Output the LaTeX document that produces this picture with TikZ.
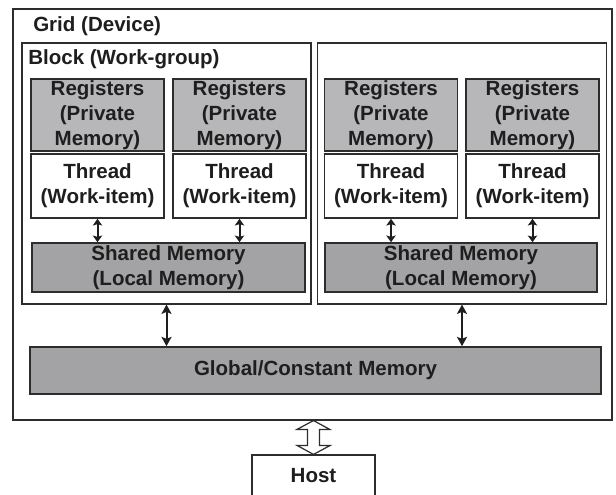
\documentclass[tikz,border=0pt]{standalone}
\usepackage{fontspec}
\setmainfont{Liberation Sans}
\usepackage{tikz}
\usetikzlibrary{arrows.meta, calc}

\definecolor{regfill}{RGB}{183,183,185}
\definecolor{memfill}{RGB}{163,163,165}
\definecolor{edge}{RGB}{45,45,45}
\definecolor{ink}{RGB}{30,30,30}

\begin{document}
\begin{tikzpicture}[x=0.75pt,y=0.75pt,yscale=-1,xscale=1,
  txt/.style={font=\fontsize{15.4}{18.6}\selectfont\bfseries, text=ink, align=center},
  outerbox/.style={draw=edge, line width=0.8pt, fill=white, inner sep=0pt},
  innerbox/.style={txt, draw=edge, line width=1.2pt, inner sep=0pt},
  regbox/.style={innerbox, fill=regfill, minimum width=99.75pt, minimum height=54pt},
  thrbox/.style={innerbox, fill=white, minimum width=99.75pt, minimum height=48pt},
  membox/.style={innerbox, fill=memfill},
  link/.style={{Stealth[length=7pt,width=7.5pt,inset=1.5pt]}-{Stealth[length=7pt,width=7.5pt,inset=1.5pt]}, line width=1.5pt, draw=ink},
  shortlink/.style={{Stealth[length=5pt,width=7pt,inset=1pt]}-{Stealth[length=5pt,width=7pt,inset=1pt]}, line width=1.5pt, draw=ink},
  hollow/.style={draw=edge, line width=0.9pt, fill=white, line join=miter}]
\useasboundingbox (0,0) rectangle (616,494);

%Shape: Rectangle [grid]
\draw (312.5,214.5) node [outerbox, minimum width=449.25pt, minimum height=308.25pt] (grid) {};
% Text Node
\draw (33,26) node [txt, anchor=west, inner sep=0pt] (gridlabel) {Grid (Device)};

%Shape: Rectangle [blocks]
\draw (166.5,173.5) node [outerbox, minimum width=216.75pt, minimum height=195.75pt] (blockL) {};
\draw (462,173.5) node [outerbox, minimum width=216.75pt, minimum height=195.75pt] (blockR) {};
% Text Node
\draw (28,59) node [txt, anchor=west, inner sep=0pt] (blocklabel) {Block (Work-group)};

%Shape: Rectangle [registers]
\draw (97.5,115) node [regbox] (regA) {Registers\\(Private\\Memory)};
\draw (239.5,115) node [regbox] (regB) {Registers\\(Private\\Memory)};
\draw (391,115) node [regbox] (regC) {Registers\\(Private\\Memory)};
\draw (532.5,115) node [regbox] (regD) {Registers\\(Private\\Memory)};

%Shape: Rectangle [threads]
\draw (97.5,186) node [thrbox] (thrA) {Thread\\(Work-item)};
\draw (239.5,186) node [thrbox] (thrB) {Thread\\(Work-item)};
\draw (391,186) node [thrbox] (thrC) {Thread\\(Work-item)};
\draw (532.5,186) node [thrbox] (thrD) {Thread\\(Work-item)};

%Shape: Rectangle [shared memory]
\draw (168.5,267.5) node [membox, minimum width=204.75pt, minimum height=36.75pt] (shL) {Shared Memory\\(Local Memory)};
\draw (461,267.5) node [membox, minimum width=204pt, minimum height=36.75pt] (shR) {Shared Memory\\(Local Memory)};

%Shape: Rectangle [global memory]
\draw (315.5,370.5) node [membox, minimum width=428.25pt, minimum height=35.25pt] (glob) {Global/Constant Memory};

%Shape: Rectangle [host]
\draw (313.5,476) node [innerbox, line width=0.9pt, fill=white, minimum width=92.25pt, minimum height=31.5pt] (host) {Host};

%Straight Lines [thread <-> shared]
\draw [shortlink] (thrA.south) -- (thrA.south |- shL.north);
\draw [shortlink] (thrB.south) -- (thrB.south |- shL.north);
\draw [shortlink] (thrC.south) -- (thrC.south |- shR.north);
\draw [shortlink] (thrD.south) -- (thrD.south |- shR.north);

%Straight Lines [block <-> global]
\draw [link] (blockL.south) -- (blockL.south |- glob.north);
\draw [link] (blockR.south) -- (blockR.south |- glob.north);

%Shape: Double Arrow [grid <-> host]
\coordinate (hosttip) at (grid.south -| host.north);
\draw [hollow] (hosttip) -- ++(16.5,9) -- ++(-10.5,0) -- ++(0,16) -- ++(10.5,0) -- (host.north) -- ++(-16.5,-9) -- ++(10.5,0) -- ++(0,-16) -- ++(-10.5,0) -- cycle;
\end{tikzpicture}
\end{document}
